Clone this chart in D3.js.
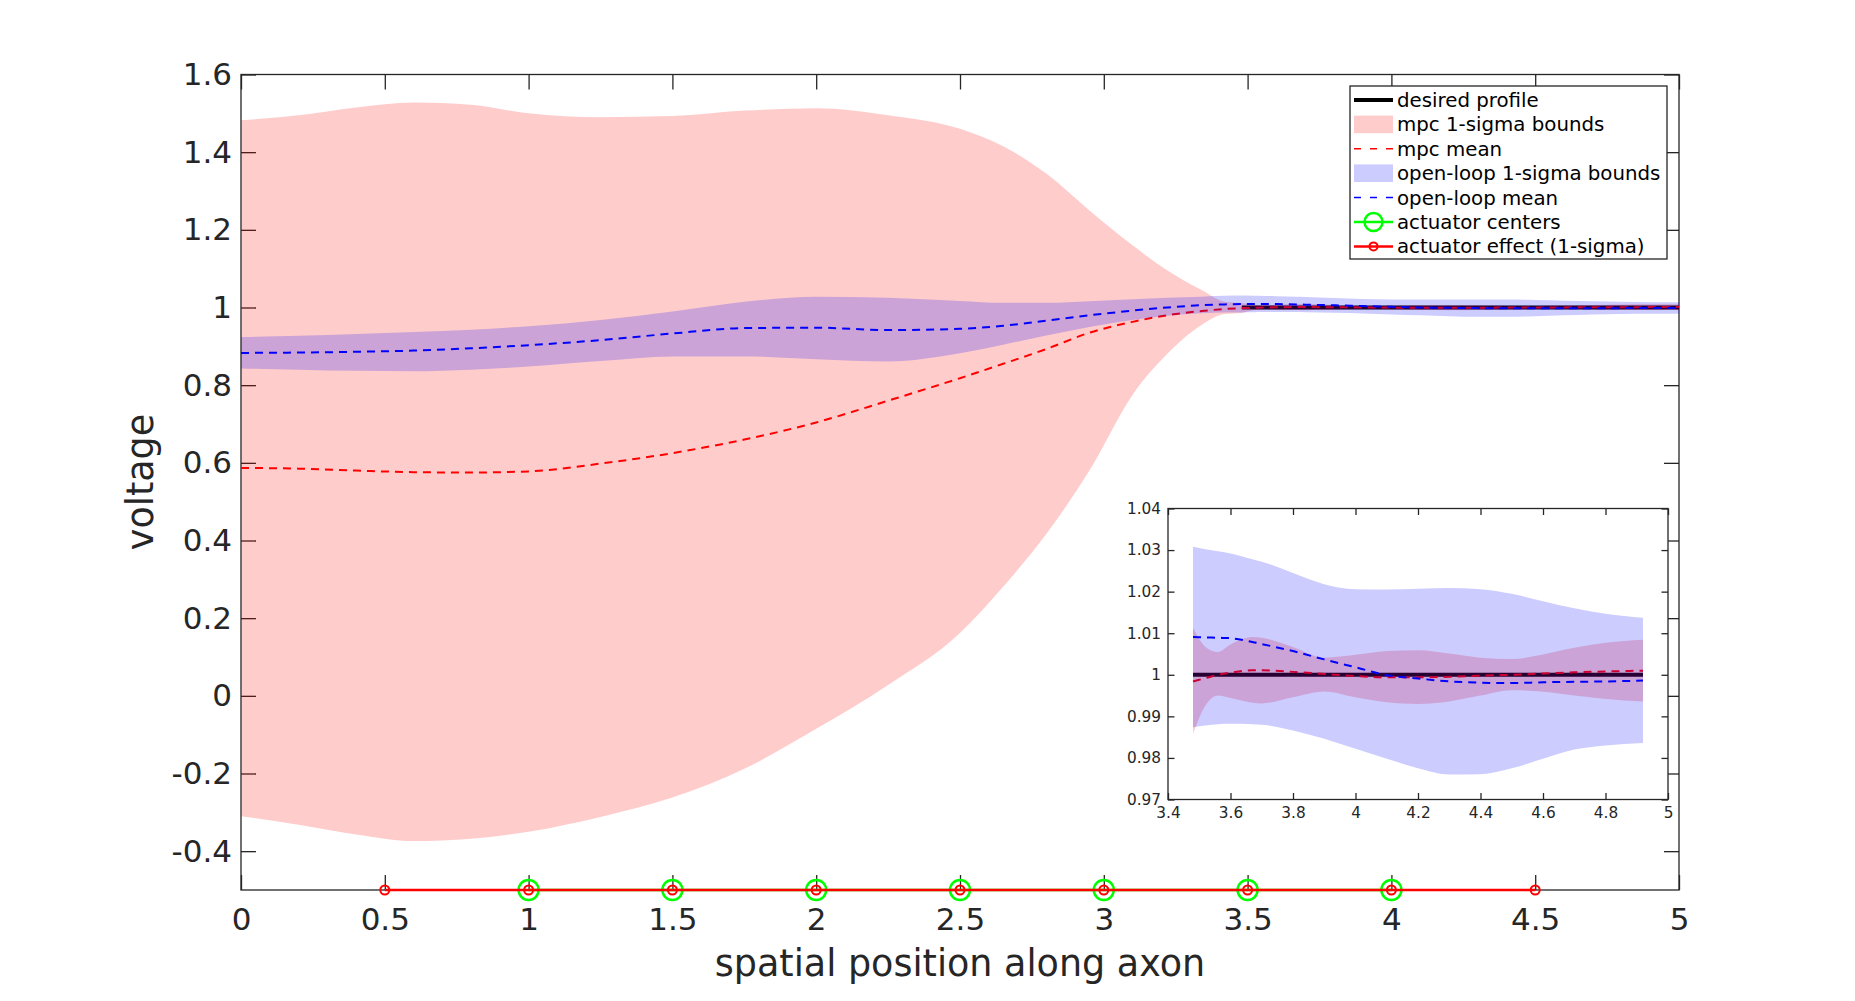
<!DOCTYPE html>
<html>
<head>
<meta charset="utf-8">
<script src="https://cdn.jsdelivr.net/npm/d3@7"></script>
<style>
  body { margin: 0; background: #fff; }
  svg { display: block; font-family: 'DejaVu Sans', sans-serif; }
</style>
</head>
<body>
<svg id="chart" width="1855" height="1001"></svg>
<script>
// sample positions along the axon
const positions = [0, 0.2, 0.4, 0.6, 0.8, 1.0, 1.25, 1.5, 1.75, 2.0, 2.25, 2.5, 2.65, 2.8, 2.95,
  3.1, 3.22, 3.34, 3.42, 3.48, 3.52, 3.56, 3.6, 3.67, 3.7, 3.8, 3.9, 4.0, 4.1, 4.2, 4.3, 4.4,
  4.5, 4.6, 4.7, 4.8, 4.92, 5.0];

// mpc (closed loop) statistics
const mpcUpper = [1.482, 1.495, 1.515, 1.528, 1.522, 1.500, 1.490, 1.493, 1.507, 1.513, 1.495, 1.460,
  1.415, 1.345, 1.250, 1.160, 1.096, 1.045, 1.015, 1.0113, 1.0067, 1.0055, 1.0073, 1.0091, 1.0089,
  1.0067, 1.0041, 1.0048, 1.0057, 1.0059, 1.0051, 1.0041, 1.0038, 1.0049, 1.0065, 1.0077, 1.0084, 1.0086];
const mpcLower = [-0.310, -0.332, -0.357, -0.374, -0.368, -0.350, -0.312, -0.262, -0.188, -0.085, 0.028,
  0.162, 0.281, 0.417, 0.580, 0.775, 0.880, 0.955, 0.983, 0.9858, 0.9926, 0.9950, 0.9944, 0.9933, 0.9931,
  0.9946, 0.9960, 0.9946, 0.9934, 0.9930, 0.9936, 0.9950, 0.9963, 0.9959, 0.9950, 0.9942, 0.9936, 0.9935];
const mpcMean = [0.587, 0.585, 0.580, 0.576, 0.575, 0.578, 0.598, 0.625, 0.660, 0.704, 0.760, 0.818,
  0.855, 0.893, 0.935, 0.963, 0.980, 0.991, 0.996, 0.9984, 0.9992, 1.0000, 1.0005, 1.0011, 1.0011,
  1.0007, 1.0002, 0.9997, 0.9994, 0.9994, 0.9995, 0.9998, 1.0000, 1.0003, 1.0006, 1.0008, 1.0010, 1.0010];

// open-loop statistics
const olUpper = [0.924, 0.927, 0.932, 0.937, 0.943, 0.952, 0.968, 0.990, 1.015, 1.028, 1.025, 1.017,
  1.012, 1.012, 1.016, 1.021, 1.025, 1.028, 1.030, 1.0308, 1.0302, 1.0297, 1.0292, 1.0278, 1.0272,
  1.0245, 1.0218, 1.0206, 1.0205, 1.0207, 1.0209, 1.0206, 1.0195, 1.0177, 1.0160, 1.0147, 1.0137, 1.0135];
const olLower = [0.843, 0.840, 0.837, 0.836, 0.840, 0.848, 0.862, 0.874, 0.874, 0.867, 0.861, 0.882,
  0.904, 0.928, 0.950, 0.968, 0.979, 0.985, 0.987, 0.9874, 0.9878, 0.9881, 0.9882, 0.9881, 0.9880,
  0.9866, 0.9846, 0.9822, 0.9798, 0.9775, 0.9760, 0.9761, 0.9775, 0.9798, 0.9820, 0.9830, 0.9836, 0.9837];
const olMean = [0.883, 0.884, 0.886, 0.889, 0.895, 0.903, 0.916, 0.933, 0.947, 0.948, 0.942, 0.945,
  0.953, 0.966, 0.980, 0.992, 1.000, 1.006, 1.008, 1.0091, 1.0090, 1.0089, 1.0088, 1.0079, 1.0074,
  1.0057, 1.0037, 1.0018, 0.9999, 0.9991, 0.9984, 0.9981, 0.9980, 0.9982, 0.9983, 0.9984, 0.9986, 0.9986];

const desiredPos = [3.48, 4.92, 5.0];
const desiredVal = [1, 1, 1];

const actuatorCenters = [1, 1.5, 2, 2.5, 3, 3.5, 4];
const actuatorEffect = [0.5, 1, 1.5, 2, 2.5, 3, 3.5, 4, 4.5];
const actuatorLevel = -0.5;

const mainXTicks = [0, 0.5, 1, 1.5, 2, 2.5, 3, 3.5, 4, 4.5, 5];
const mainYTicks = [-0.4, -0.2, 0, 0.2, 0.4, 0.6, 0.8, 1, 1.2, 1.4, 1.6];
const insetXTicks = [3.4, 3.6, 3.8, 4, 4.2, 4.4, 4.6, 4.8, 5];
const insetYTicks = [0.97, 0.98, 0.99, 1, 1.01, 1.02, 1.03, 1.04];

const legendLabels = ['desired profile', 'mpc 1-sigma bounds', 'mpc mean', 'open-loop 1-sigma bounds',
  'open-loop mean', 'actuator centers', 'actuator effect (1-sigma)'];

const AXIS_COLOR = '#262626';
const fmt = d => String(Math.round(d * 100) / 100);

class ProfilePlot {

  constructor(_config) {
    this.config = {
      parentElement: _config.parentElement,
      left: _config.left,
      top: _config.top,
      width: _config.width,
      height: _config.height,
      xDomain: _config.xDomain,
      yDomain: _config.yDomain,
      xTicks: _config.xTicks,
      yTicks: _config.yTicks,
      span: _config.span,
      fontSize: _config.fontSize,
      tickLength: _config.tickLength,
      xPad: _config.xPad,
      yPad: _config.yPad,
      actuators: _config.actuators || false
    }
    this.initVis();
  }

  initVis() {
    let vis = this;
    const c = vis.config;

    vis.xScale = d3.scaleLinear().domain(c.xDomain).range([0, c.width]);
    vis.yScale = d3.scaleLinear().domain(c.yDomain).range([c.height, 0]);

    vis.chart = d3.select(c.parentElement).append('g')
      .attr('transform', `translate(${c.left}, ${c.top})`);

    vis.chart.append('rect')
      .attr('width', c.width)
      .attr('height', c.height)
      .attr('fill', '#fff');

    // ticks point inwards on all four sides
    const styleAxis = (g) => {
      g.select('.domain').remove();
      g.attr('font-size', c.fontSize)
        .attr('font-family', "'DejaVu Sans', sans-serif")
        .style('color', AXIS_COLOR);
      g.selectAll('line').attr('stroke-width', 1.3);
    };

    vis.chart.append('g')
      .attr('transform', `translate(0, ${c.height})`)
      .call(d3.axisBottom(vis.xScale).tickValues(c.xTicks).tickFormat(fmt)
        .tickSizeInner(-c.tickLength).tickSizeOuter(0).tickPadding(c.xPad))
      .call(styleAxis);
    vis.chart.append('g')
      .call(d3.axisTop(vis.xScale).tickValues(c.xTicks).tickFormat('')
        .tickSizeInner(-c.tickLength).tickSizeOuter(0))
      .call(styleAxis);
    vis.chart.append('g')
      .call(d3.axisLeft(vis.yScale).tickValues(c.yTicks).tickFormat(fmt)
        .tickSizeInner(-c.tickLength).tickSizeOuter(0).tickPadding(c.yPad))
      .call(styleAxis);
    vis.chart.append('g')
      .attr('transform', `translate(${c.width}, 0)`)
      .call(d3.axisRight(vis.yScale).tickValues(c.yTicks).tickFormat('')
        .tickSizeInner(-c.tickLength).tickSizeOuter(0))
      .call(styleAxis);

    vis.chart.append('rect')
      .attr('width', c.width)
      .attr('height', c.height)
      .attr('fill', 'none')
      .attr('stroke', AXIS_COLOR)
      .attr('stroke-width', 1.3);

    vis.renderVis();
  }

  renderVis() {
    let vis = this;
    const c = vis.config;
    const inSpan = x => x >= c.span[0] - 1e-9 && x <= c.span[1] + 1e-9;

    const samples = positions.map((x, i) => ({
      x: x, mpcLo: mpcLower[i], mpcHi: mpcUpper[i], mpcMid: mpcMean[i],
      olLo: olLower[i], olHi: olUpper[i], olMid: olMean[i]
    })).filter(d => inSpan(d.x));
    const desired = desiredPos.map((x, i) => ({x: x, y: desiredVal[i]})).filter(d => inSpan(d.x));

    const curve = d3.curveMonotoneX;
    const band = (lo, hi) => d3.area().curve(curve)
      .x(d => vis.xScale(d.x)).y0(d => vis.yScale(d[lo])).y1(d => vis.yScale(d[hi]));
    const meanLine = (key) => d3.line().curve(curve)
      .x(d => vis.xScale(d.x)).y(d => vis.yScale(d[key]));

    vis.chart.append('path')
      .datum(desired)
      .attr('d', d3.line().x(d => vis.xScale(d.x)).y(d => vis.yScale(d.y)))
      .attr('fill', 'none')
      .attr('stroke', '#000')
      .attr('stroke-width', 4);

    vis.chart.append('path')
      .datum(samples)
      .attr('d', band('mpcLo', 'mpcHi'))
      .attr('fill', 'rgb(255,0,0)')
      .attr('fill-opacity', 0.2);

    vis.chart.append('path')
      .datum(samples)
      .attr('d', meanLine('mpcMid'))
      .attr('fill', 'none')
      .attr('stroke', 'rgb(255,0,0)')
      .attr('stroke-width', 2)
      .attr('stroke-dasharray', '8,6');

    vis.chart.append('path')
      .datum(samples)
      .attr('d', band('olLo', 'olHi'))
      .attr('fill', 'rgb(0,0,255)')
      .attr('fill-opacity', 0.2);

    vis.chart.append('path')
      .datum(samples)
      .attr('d', meanLine('olMid'))
      .attr('fill', 'none')
      .attr('stroke', 'rgb(0,0,255)')
      .attr('stroke-width', 2)
      .attr('stroke-dasharray', '8,6');

    if (c.actuators) {
      const yA = vis.yScale(actuatorLevel);
      vis.chart.append('path')
        .datum(actuatorCenters)
        .attr('d', d3.line().x(d => vis.xScale(d)).y(yA))
        .attr('fill', 'none')
        .attr('stroke', '#00ff00')
        .attr('stroke-width', 2.5);
      vis.chart.selectAll('.center-marker')
        .data(actuatorCenters)
        .join('circle')
        .attr('class', 'center-marker')
        .attr('cx', d => vis.xScale(d))
        .attr('cy', yA)
        .attr('r', 10)
        .attr('fill', 'none')
        .attr('stroke', '#00ff00')
        .attr('stroke-width', 2.5);

      vis.chart.append('path')
        .datum(actuatorEffect)
        .attr('d', d3.line().x(d => vis.xScale(d)).y(yA))
        .attr('fill', 'none')
        .attr('stroke', '#ff0000')
        .attr('stroke-width', 2.5);
      vis.chart.selectAll('.effect-marker')
        .data(actuatorEffect)
        .join('circle')
        .attr('class', 'effect-marker')
        .attr('cx', d => vis.xScale(d))
        .attr('cy', yA)
        .attr('r', 4.5)
        .attr('fill', 'none')
        .attr('stroke', '#ff0000')
        .attr('stroke-width', 2);
    }
  }
}

const svg = d3.select('#chart');

const mainPlot = new ProfilePlot({
  parentElement: '#chart',
  left: 241, top: 74.5, width: 1438, height: 815.5,
  xDomain: [0, 5], yDomain: [-0.5, 1.6],
  xTicks: mainXTicks, yTicks: mainYTicks,
  span: [0, 5],
  fontSize: 31, tickLength: 15, xPad: 18, yPad: 9,
  actuators: true
});

// axis titles
svg.append('text')
  .attr('x', 960)
  .attr('y', 976)
  .attr('text-anchor', 'middle')
  .attr('font-size', 36.5)
  .attr('fill', AXIS_COLOR)
  .text('spatial position along axon');
svg.append('text')
  .attr('transform', 'translate(153, 482) rotate(-90)')
  .attr('text-anchor', 'middle')
  .attr('font-size', 36.5)
  .attr('fill', AXIS_COLOR)
  .text('voltage');

// legend
const legend = svg.append('g').attr('transform', 'translate(1350, 86)');
legend.append('rect')
  .attr('width', 317)
  .attr('height', 173)
  .attr('fill', '#fff')
  .attr('stroke', AXIS_COLOR)
  .attr('stroke-width', 1.3);

const rowY = i => 14 + i * 24.4;
const s0 = 4, s1 = 43, sMid = (s0 + s1) / 2;

legend.append('line').attr('x1', s0).attr('x2', s1).attr('y1', rowY(0)).attr('y2', rowY(0))
  .attr('stroke', '#000').attr('stroke-width', 4);
legend.append('rect').attr('x', s0).attr('y', rowY(1) - 8.8).attr('width', s1 - s0).attr('height', 17.6)
  .attr('fill', 'rgb(255,0,0)').attr('fill-opacity', 0.2);
legend.append('line').attr('x1', s0).attr('x2', s1).attr('y1', rowY(2)).attr('y2', rowY(2))
  .attr('stroke', 'rgb(255,0,0)').attr('stroke-width', 1.5).attr('stroke-dasharray', '7,9');
legend.append('rect').attr('x', s0).attr('y', rowY(3) - 8.8).attr('width', s1 - s0).attr('height', 17.6)
  .attr('fill', 'rgb(0,0,255)').attr('fill-opacity', 0.2);
legend.append('line').attr('x1', s0).attr('x2', s1).attr('y1', rowY(4)).attr('y2', rowY(4))
  .attr('stroke', 'rgb(0,0,255)').attr('stroke-width', 1.5).attr('stroke-dasharray', '7,9');
legend.append('line').attr('x1', s0).attr('x2', s1).attr('y1', rowY(5)).attr('y2', rowY(5))
  .attr('stroke', '#00ff00').attr('stroke-width', 2.5);
legend.append('circle').attr('cx', sMid).attr('cy', rowY(5)).attr('r', 9)
  .attr('fill', 'none').attr('stroke', '#00ff00').attr('stroke-width', 2.5);
legend.append('line').attr('x1', s0).attr('x2', s1).attr('y1', rowY(6)).attr('y2', rowY(6))
  .attr('stroke', '#ff0000').attr('stroke-width', 2.5);
legend.append('circle').attr('cx', sMid).attr('cy', rowY(6)).attr('r', 4)
  .attr('fill', 'none').attr('stroke', '#ff0000').attr('stroke-width', 2);

legend.selectAll('.legend-label')
  .data(legendLabels)
  .join('text')
  .attr('class', 'legend-label')
  .attr('x', 47)
  .attr('y', (d, i) => rowY(i))
  .attr('dy', '0.35em')
  .attr('font-size', 19.8)
  .attr('fill', '#000')
  .text(d => d);

// zoomed inset near the steady state
const insetPlot = new ProfilePlot({
  parentElement: '#chart',
  left: 1168, top: 508.5, width: 500, height: 291,
  xDomain: [3.4, 5], yDomain: [0.97, 1.04],
  xTicks: insetXTicks, yTicks: insetYTicks,
  span: [3.48, 4.92],
  fontSize: 15.3, tickLength: 6.5, xPad: 8, yPad: 7
});
</script>
</body>
</html>
